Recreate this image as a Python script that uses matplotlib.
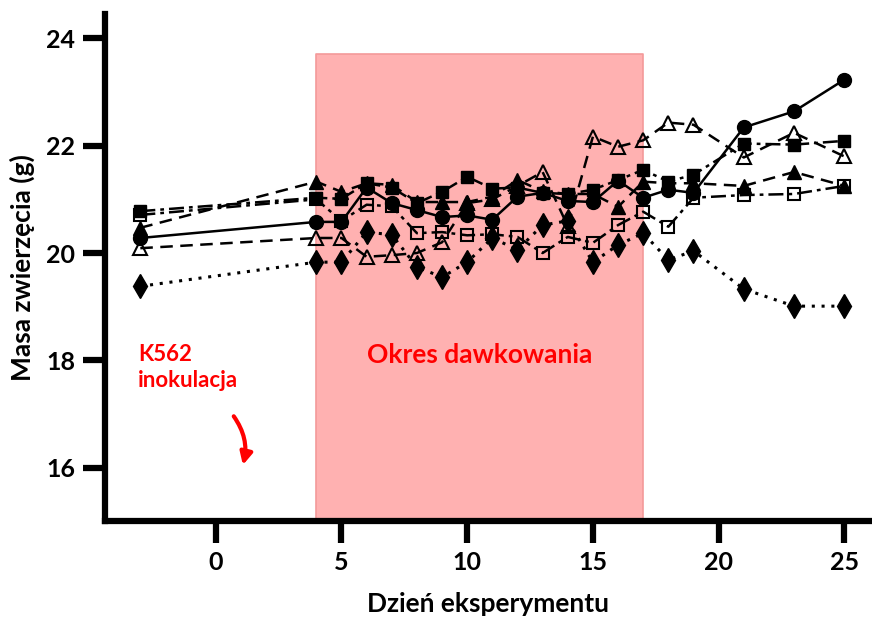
import matplotlib
matplotlib.use('Agg')
import matplotlib.pyplot as plt

plt.rcParams['font.family'] = ['Lato', 'DejaVu Sans']
plt.rcParams['font.weight'] = 'bold'

days = [-3, 4, 5, 6, 7, 8, 9, 10, 11, 12, 13, 14, 15, 16, 17, 18, 19, 21, 23, 25]

circle_vals = [20.28, 20.58, 20.58, 21.22, 20.93, 20.8, 20.67, 20.7, 20.62, 21.05, 21.12, 20.97, 20.95, 21.35, 21.03, 21.18, 21.12, 22.34, 22.64, 23.23]
square_vals = [20.78, 21.03, 21.01, 21.3, 21.22, 20.93, 21.14, 21.42, 21.2, 21.22, 21.12, 21.1, 21.18, 21.36, 21.55, 21.33, 21.46, 22.04, 22.02, 22.09]
open_square_vals = [20.71, 21.0, 20.6, 20.9, 20.87, 20.37, 20.39, 20.33, 20.35, 20.3, 20.0, 20.3, 20.19, 20.52, 20.77, 20.49, 21.03, 21.08, 21.1, 21.25]
triangle_vals = [20.47, 21.33, 21.14, 21.3, 21.27, 20.95, 20.95, 20.95, 21.05, 21.36, 21.15, 21.1, 21.1, 20.86, 21.33, 21.3, 21.3, 21.25, 21.51, 21.25]
open_triangle_vals = [20.09, 20.28, 20.28, 19.93, 19.96, 20.0, 20.2, 20.93, 21.0, 21.25, 21.51, 20.5, 22.17, 21.98, 22.1, 22.43, 22.39, 21.78, 22.24, 21.8]
diamond_vals = [19.38, 19.83, 19.83, 20.39, 20.34, 19.74, 19.55, 19.83, 20.28, 20.06, 20.52, 20.6, 19.83, 20.15, 20.37, 19.87, 20.04, 19.33, 19.01, 19.01]

dosing_start, dosing_end = 4, 17

fig = plt.figure(figsize=(8.72, 6.17), dpi=100)
ax = fig.add_axes([0.12, 0.155, 0.88, 0.822])

# okres dawkowania
ax.fill_between([dosing_start, dosing_end], 15, 23.7, facecolor='#FFB1B1',
                edgecolor='#F49A9A', linewidth=1.2, zorder=0)

lw = 1.8
ms = 10
ax.plot(days, diamond_vals, color='black', linestyle=(0, (1, 2.2)), linewidth=2.2,
        marker='d', markersize=ms + 2, markerfacecolor='black', zorder=3)
ax.plot(days, open_triangle_vals, color='black', linestyle=(0, (5, 3)), linewidth=lw,
        marker='^', markersize=ms, markerfacecolor='none', markeredgewidth=1.5, zorder=3)
ax.plot(days, open_square_vals, color='black', linestyle=(0, (6, 2, 1.5, 2)), linewidth=lw,
        marker='s', markersize=ms - 1, markerfacecolor='none', markeredgewidth=1.5, zorder=3)
ax.plot(days, triangle_vals, color='black', linestyle=(0, (5, 3)), linewidth=lw,
        marker='^', markersize=ms, markerfacecolor='black', zorder=4)
ax.plot(days, square_vals, color='black', linestyle=(0, (6, 2, 1.5, 2)), linewidth=lw,
        marker='s', markersize=ms - 1, markerfacecolor='black', zorder=4)
ax.plot(days, circle_vals, color='black', linestyle='-', linewidth=lw,
        marker='o', markersize=ms, markerfacecolor='black', zorder=5)

ax.set_xlim(-4.42, 26.1)
ax.set_ylim(15.0, 24.45)
ax.set_xticks([0, 5, 10, 15, 20, 25])
ax.set_yticks([16, 18, 20, 22, 24])

for side in ['top', 'right']:
    ax.spines[side].set_visible(False)
for side in ['left', 'bottom']:
    ax.spines[side].set_linewidth(4.5)
ax.tick_params(axis='both', width=4.5, length=16, labelsize=18, pad=5)
for lab in ax.get_xticklabels() + ax.get_yticklabels():
    lab.set_fontweight('bold')

ax.set_xlabel('Dzień eksperymentu', fontsize=19, fontweight='bold', labelpad=13)
ax.set_ylabel('Masa zwierzęcia (g)', fontsize=19, fontweight='bold', labelpad=8)

ax.text(10.5, 18.1, 'Okres dawkowania', color='red', fontsize=19,
        fontweight='bold', ha='center', va='center')
ax.text(-3.1, 18.3, 'K562\ninokulacja', color='red', fontsize=16,
        fontweight='bold', ha='left', va='top', linespacing=1.3)
ax.annotate('', xy=(1.05, 16.0), xytext=(0.65, 17.0),
            arrowprops=dict(arrowstyle='-|>', color='red', lw=3,
                            connectionstyle='arc3,rad=-0.25', mutation_scale=18))

plt.savefig('out.png', dpi=100)
